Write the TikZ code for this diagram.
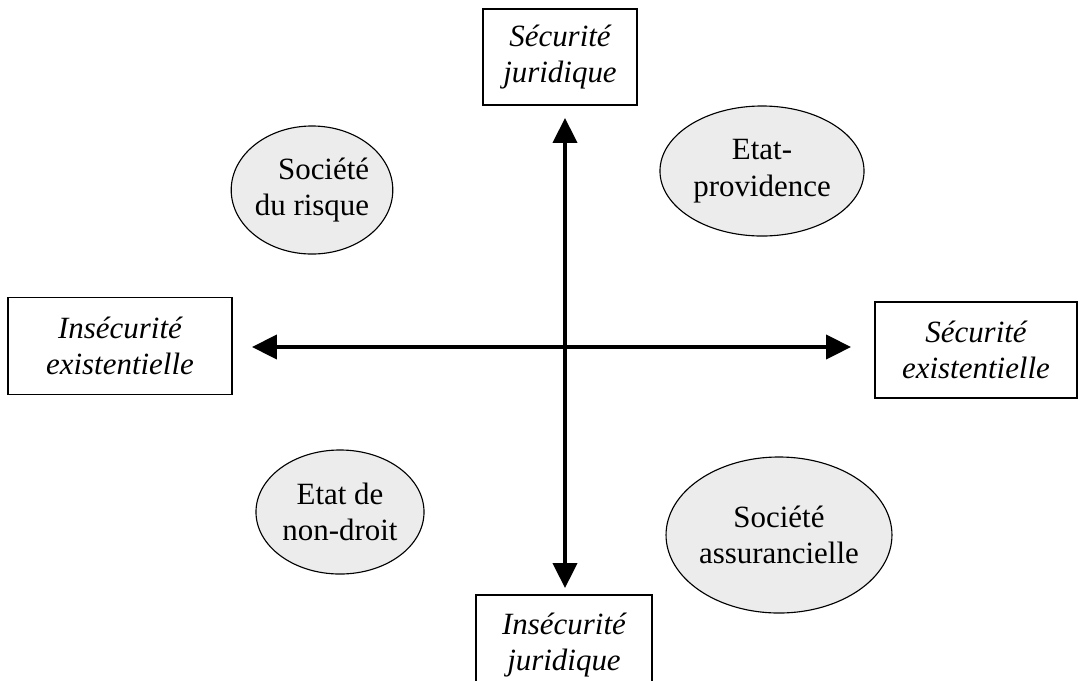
\documentclass[tikz,border=0pt]{standalone}
\usepackage{fontspec}
\setmainfont{Liberation Serif}
\usetikzlibrary{arrows.meta,positioning,shapes.geometric}

\begin{document}
\begin{tikzpicture}[x=0.025cm, y=-0.025cm,
pole/.style={draw, line width=0.8pt, align=center, inner sep=0pt, font=\fontsize{22}{26}\selectfont\itshape},
regime/.style={ellipse, draw, line width=0.8pt, fill=gray!15, align=center, inner sep=0pt, font=\fontsize{22}{26}\selectfont},
axis/.style={{Triangle[length=0.62cm,width=0.6cm]}-{Triangle[length=0.62cm,width=0.6cm]}, line width=2.6pt}
]
\useasboundingbox (0,0) rectangle (1079,680);

% Poles of the two axes
\node[pole, minimum width=3.85cm, minimum height=2.4cm] (secjur) at (560,57) {Sécurité\\juridique};
\node[pole, minimum width=4.4cm, minimum height=2.5cm] (insjur) at (564,645) {Insécurité\\juridique};
\node[pole, minimum width=5.6cm, minimum height=2.42cm] (insex) at (120,346) {Insécurité\\existentielle};
\node[pole, minimum width=5.05cm, minimum height=2.4cm] (secex) at (976,350) {Sécurité\\existentielle};

% Arrow tips
\coordinate (ntip) at (565,118);
\coordinate (stip) at (565,588);
\coordinate (wtip) at (252,347);
\coordinate (etip) at (851,347);

% Regimes in the four quadrants
\node[regime, minimum width=3.95cm, minimum height=3.2cm, align=right] (risque) at (312,190) {Société\\du risque};
\node[regime, minimum width=5.1cm, minimum height=3.25cm] (providence) at (762,171) {Etat-\\providence};
\node[regime, minimum width=4.2cm, minimum height=3.1cm] (nondroit) at (340,512) {Etat de\\non-droit};
\node[regime, minimum width=5.6cm, minimum height=3.9cm] (assur) at (779,535) {Société\\assurancielle};

% Axes
\draw[axis] (stip) -- (ntip);
\draw[axis] (wtip) -- (etip);

\end{tikzpicture}
\end{document}
